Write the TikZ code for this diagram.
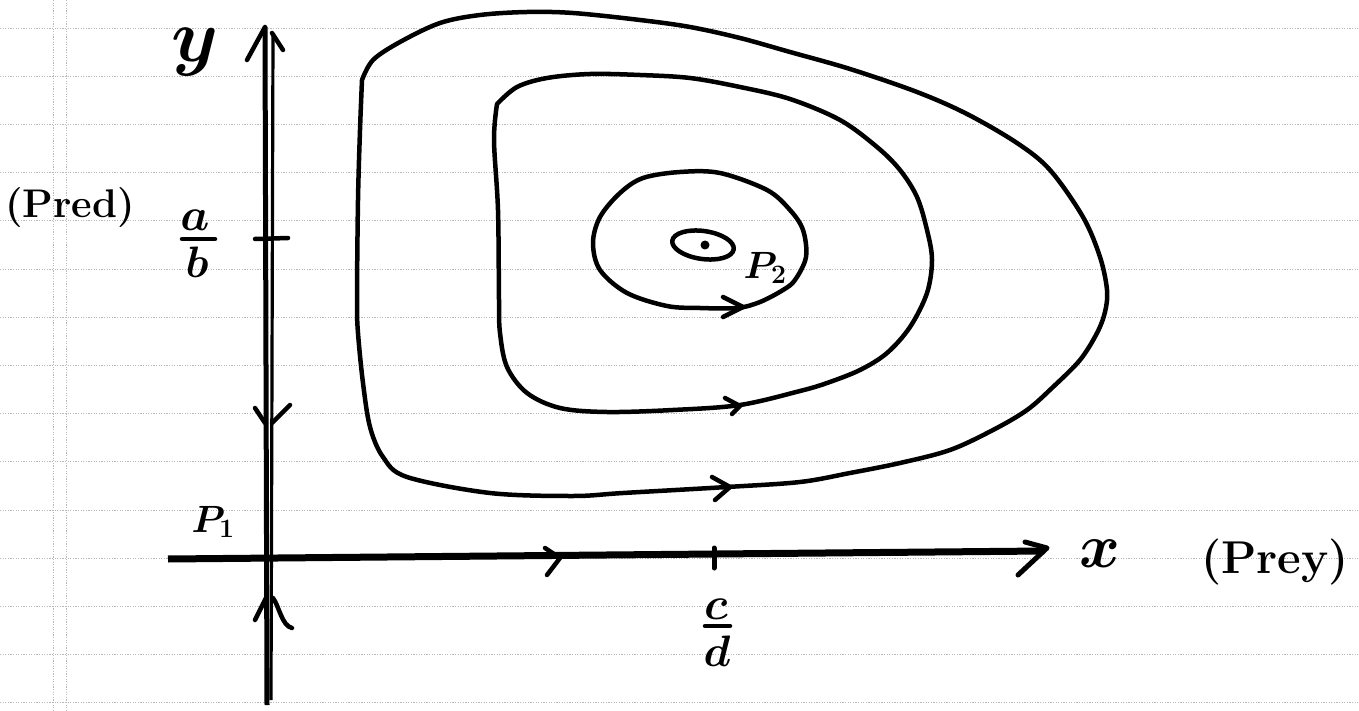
\documentclass[tikz,border=0pt]{standalone}
\usepackage{fix-cm}
\usetikzlibrary{shapes.geometric}
\begin{document}
\begin{tikzpicture}[x=1pt,y=-1pt,
  paper/.style={gray!55, line width=0.9pt, dash pattern=on 1.2pt off 1.4pt},
  ink/.style={black, line width=4.5pt, line cap=round, line join=round},
  lbl/.style={inner sep=0pt, font=\boldmath\bfseries}]
\useasboundingbox (0,0) rectangle (1359,711);
% notebook ruling
\foreach \k in {0,...,14} \draw[paper] (0,{28+48.2*\k}) -- (1359,{28+48.2*\k});
\draw[paper] (53,0) -- (53,711);
\draw[paper] (66,0) -- (66,711);

% y-axis (double stroke)
\coordinate (ytop) at (265,27);
\coordinate (ybot) at (267,705);
\draw[line width=5pt] (ytop) -- (ybot);
\draw[line width=3.2pt] (273,34) -- (271,700);
\draw[ink] (247,60) -- (ytop);
\draw[ink] (283,50) -- (272,33);
% y-axis flow arrows
\draw[ink] (255,408) -- (265,423);
\draw[ink] (290,405) -- (272,423);
\draw[ink] (255,620) -- (266,598);
\draw[ink] (292,628) .. controls (282,626) and (279,606) .. (273,598);
% tick a/b
\draw[ink] (255,239) -- (288,238);

% x-axis
\coordinate (xl) at (168,559);
\coordinate (xr) at (1044,551);
\draw[line width=7pt] (xl) -- (xr);
\draw[ink,line width=5pt] (1025,542) -- (1047,548) -- (1018,575);
\draw[ink] (545,548) -- (560,558) -- (547,575);
% tick c/d
\draw[ink,line width=5pt] (714,548) -- (714,568);

% outer orbit
\draw[ink] plot[smooth, tension=0.55] coordinates {(362,80) (373,60) (400,42) (440,23) (480,15) (527,12) (573,13) (640,20) (690,27) (740,38) (790,52) (850,69) (917,92) (967,114) (1017,143) (1050,170) (1083,217) (1100,257) (1107,290) (1105,312) (1097,333) (1080,360) (1053,387) (1027,410) (993,430) (950,450) (900,463) (850,473) (800,482) (727,487) (623,493) (573,496) (490,493) (407,477) (383,457) (370,427) (363,383) (358,333) (357,300) (358,200) (360,130) (362,80)};
\draw[ink] (712,477) -- (730,487) -- (715,500);

% middle orbit
\draw[ink] plot[smooth, tension=0.55] coordinates {(497,104) (517,87) (547,78) (590,74) (640,75) (690,78) (740,87) (790,99) (840,120) (877,147) (900,170) (917,197) (927,230) (932,260) (927,293) (910,327) (887,353) (860,370) (827,383) (800,391) (740,405) (673,410) (607,412) (560,408) (527,393) (507,367) (500,333) (499,300) (498,210) (494,140) (497,104)};
\draw[ink] (725,398) -- (740,406) -- (732,414);

% inner orbit
\draw[ink] plot[smooth cycle, tension=0.55] coordinates {(593,243) (600,217) (620,193) (643,178) (680,172) (720,173) (767,190) (790,210) (803,230) (806,257) (795,280) (783,290) (760,302) (737,308) (700,308) (667,306) (627,293) (600,270)};
\draw[ink] (723,297) -- (743,307) -- (723,317);

% equilibrium P2
\node[draw, ellipse, ink, minimum width=62pt, minimum height=28pt, rotate=-8, inner sep=0pt] (eq) at (703,245) {};
\fill (705,245) circle (4.5pt);

% labels
\node[lbl] (ylab) at (195,52) {\fontsize{75}{75}\selectfont $y$};
\node[lbl] (pred) at (70,208) {\fontsize{40}{40}\selectfont (Pred)};
\node[lbl] (anum) at (195,220) {\fontsize{46}{46}\selectfont $a$};
\node[lbl] (bden) at (197,262) {\fontsize{44}{44}\selectfont $b$};
\draw[ink] (182,239) -- (215,239);
\node[lbl] (p1) at (213,522) {\fontsize{38}{38}\selectfont $P_1$};
\node[lbl] (cnum) at (716,609) {\fontsize{46}{46}\selectfont $c$};
\node[lbl] (dden) at (717,651) {\fontsize{44}{44}\selectfont $d$};
\draw[ink] (705,626) -- (730,626);
\node[lbl] (xlab) at (1100,554) {\fontsize{62}{62}\selectfont $x$};
\node[lbl] (prey) at (1275,562) {\fontsize{46}{46}\selectfont (Prey)};
\node[lbl] (p2) at (765,268) {\fontsize{38}{38}\selectfont $P_2$};
\end{tikzpicture}
\end{document}
